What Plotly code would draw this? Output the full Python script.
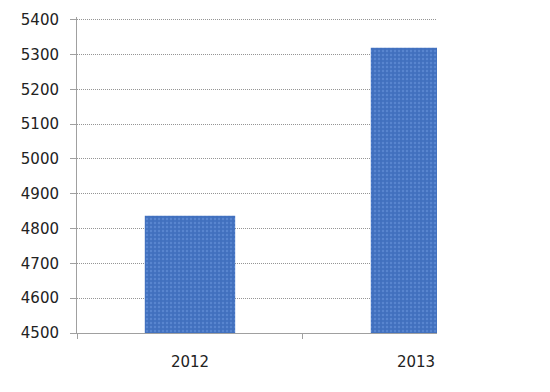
import plotly.graph_objects as go

years = ["2012", "2013"]
values = [4837, 5320]
y_ticks = [4500, 4600, 4700, 4800, 4900, 5000, 5100, 5200, 5300, 5400]

fig = go.Figure(go.Bar(
    x=years, y=values, width=0.4,
    marker=dict(color="#4677C4", line=dict(width=0),
                pattern=dict(shape=".", fgcolor="#6E9AE0", bgcolor="#4170BE", size=4, solidity=0.3)),
))

fig.update_layout(
    width=550, height=392,
    margin=dict(l=77, r=113, t=17.2, b=59),
    paper_bgcolor="white", plot_bgcolor="white",
    showlegend=False,
    font=dict(family="DejaVu Sans, Verdana, sans-serif", size=15, color="#222222"),
    bargap=0.6,
)
fig.update_xaxes(
    type="category", range=[-0.5, 1.093], tickson="boundaries",
    ticks="outside", ticklen=5, tickcolor="#a0a0a0",
    showline=True, linecolor="#a0a0a0", linewidth=1,
    showgrid=False, ticklabelstandoff=15,
)
fig.update_yaxes(
    range=[4500, 5408], tickvals=y_ticks, ticktext=[str(v) for v in y_ticks],
    ticks="outside", ticklen=6, tickcolor="#a0a0a0",
    showline=True, linecolor="#a0a0a0", linewidth=1,
    showgrid=True, gridcolor="#959595", griddash="1px,1px", gridwidth=1,
    zeroline=False, ticklabelstandoff=8,
)

fig.write_html("out.html")
